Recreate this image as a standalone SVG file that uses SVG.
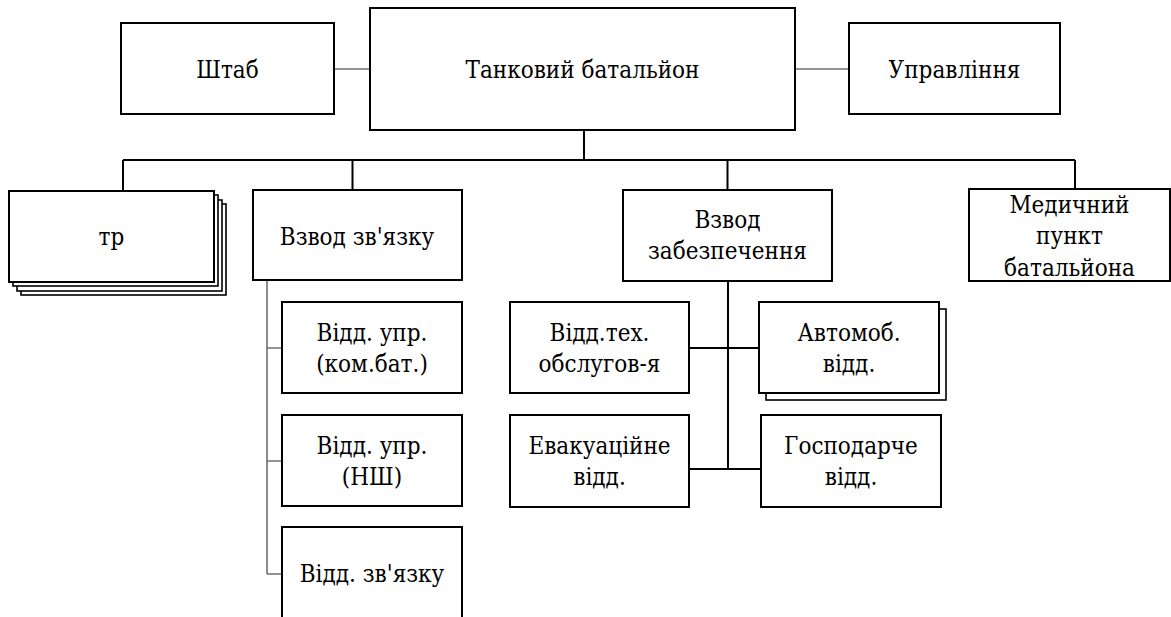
<svg xmlns="http://www.w3.org/2000/svg" width="1171" height="617" viewBox="0 0 1171 617">
<style>
.box{fill:#fff;stroke:#000;stroke-width:2}
.sh{fill:#fff;stroke:#000;stroke-width:1.6}
.t{font-family:'DejaVu Serif Condensed','DejaVu Serif',serif;font-size:24px;fill:#000;text-anchor:middle}
.cb{stroke:#000;stroke-width:2;fill:none}
.cg{stroke:#707070;stroke-width:1.6;fill:none}
</style>
<rect width="1171" height="617" fill="#fff"/>
<g id="connectors">
<path class="cg" d="M334,69H370M795,69H849"/>
<path class="cb" d="M584,130V160M123,160H1075M123,160V191M352.5,160V190M727.5,160V190M1075,160V189"/>
<path class="cg" d="M267,280V574M267,348H282M267,461H282M267,574H282"/>
<path class="cb" d="M728,281V469M689,348H759M689,469H761"/>
</g>
<g id="n-shtab"><rect class="box" x="121" y="23" width="213" height="91"/><text class="t" x="227.5" y="77.5">Штаб</text></g>
<g id="n-tb"><rect class="box" x="370" y="8" width="425" height="122"/><text class="t" x="582.5" y="77.5">Танковий батальйон</text></g>
<g id="n-upr"><rect class="box" x="849" y="23" width="211" height="91"/><text class="t" x="954.5" y="77.5">Управління</text></g>
<g id="n-tr">
<rect class="sh" x="21" y="204" width="205" height="91"/>
<rect class="sh" x="17" y="200" width="205" height="91"/>
<rect class="sh" x="13" y="195" width="205" height="91"/>
<rect class="box" x="9" y="191" width="205" height="91"/>
<text class="t" x="111.5" y="245">тр</text></g>
<g id="n-vz"><rect class="box" x="253" y="190" width="209" height="90"/><text class="t" x="357" y="245">Взвод зв'язку</text></g>
<g id="n-vzab"><rect class="box" x="623" y="190" width="209" height="91"/><text class="t" x="727.5" y="228">Взвод</text><text class="t" x="727.5" y="259">забезпечення</text></g>
<g id="n-med"><rect class="box" x="969" y="189" width="201" height="92"/><text class="t" x="1069.5" y="212.5">Медичний</text><text class="t" x="1069.5" y="244">пункт</text><text class="t" x="1069.5" y="275.5">батальйона</text></g>
<g id="n-vu1"><rect class="box" x="282" y="302" width="180" height="91"/><text class="t" x="372" y="341">Відд. упр.</text><text class="t" x="372" y="372">(ком.бат.)</text></g>
<g id="n-vu2"><rect class="box" x="282" y="415" width="180" height="91"/><text class="t" x="372" y="453.5">Відд. упр.</text><text class="t" x="372" y="485">(НШ)</text></g>
<g id="n-vzv"><rect class="box" x="282" y="527" width="180" height="120"/><text class="t" x="372" y="581.5">Відд. зв'язку</text></g>
<g id="n-vto"><rect class="box" x="510" y="302" width="179" height="91"/><text class="t" x="599.5" y="341">Відд.тех.</text><text class="t" x="599.5" y="372">обслугов-я</text></g>
<g id="n-avt"><rect class="sh" x="766" y="309" width="180" height="91"/><rect class="box" x="759" y="302" width="180" height="91"/><text class="t" x="849" y="341">Автомоб.</text><text class="t" x="849" y="372">відд.</text></g>
<g id="n-evak"><rect class="box" x="510" y="415" width="179" height="92"/><text class="t" x="599.5" y="453.5">Евакуаційне</text><text class="t" x="599.5" y="485">відд.</text></g>
<g id="n-gosp"><rect class="box" x="761" y="415" width="180" height="92"/><text class="t" x="851" y="453.5">Господарче</text><text class="t" x="851" y="485">відд.</text></g>
</svg>
